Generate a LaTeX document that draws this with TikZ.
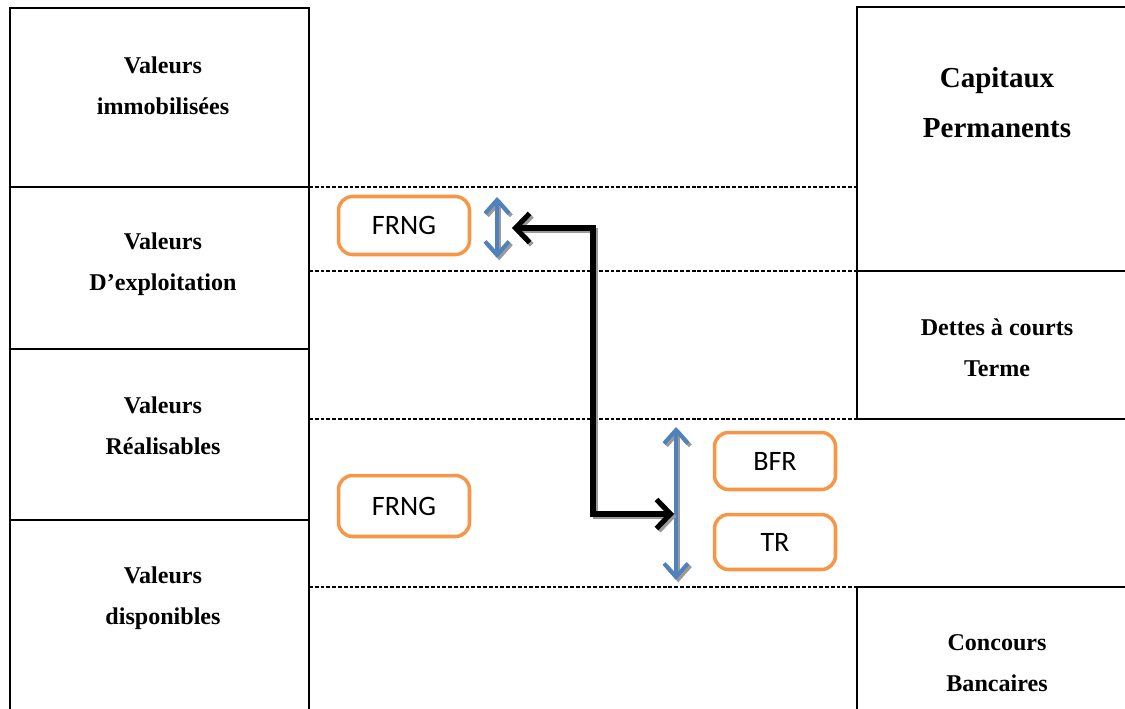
\documentclass[tikz,border=0pt]{standalone}
\usepackage{fontspec}
\setmainfont{Liberation Serif}
\newfontfamily\boxfont{Carlito}
\usetikzlibrary{arrows.meta}
\definecolor{frorange}{HTML}{F79646}
\definecolor{frblue}{HTML}{4F81BD}
\definecolor{shadowgray}{HTML}{9A9A9A}
\tikzset{
  grid/.style={line width=1.2pt, black},
  sep/.style={line width=0.6pt, black, dash pattern=on 2.2pt off 1.1pt},
  lbl/.style={align=center, font=\bfseries\fontsize{13.7}{23.5}\selectfont},
  biglbl/.style={align=center, font=\bfseries\fontsize{16.5}{28.5}\selectfont},
  tag/.style={draw=frorange, line width=2pt, rounded corners=8pt, fill=white,
    font=\boxfont\fontsize{16}{18}\selectfont, inner sep=0pt},
  bluearrow/.style={line width=2.3pt,
    {Straight Barb[length=0.27cm,width=0.48cm]}-{Straight Barb[length=0.27cm,width=0.48cm]}},
  blackarrow/.style={line width=2.9pt,
    {Straight Barb[length=0.28cm,width=0.58cm]}-{Straight Barb[length=0.28cm,width=0.58cm]}},
  dropshadow/.style={transform canvas={xshift=1.3pt, yshift=-1.3pt}, draw=shadowgray},
}
\begin{document}
\begin{tikzpicture}[x=0.02cm, y=-0.02cm]
\clip (0,0) rectangle (1125,709);
\useasboundingbox (0,0) rectangle (1125,709);

% asset column
\draw[grid] (10,715) -- (10,8) -- (309,8) -- (309,715);
\draw[grid] (10,187) -- (309,187);
\draw[grid] (10,349) -- (309,349);
\draw[grid] (10,520) -- (309,520);

% liabilities column
\draw[grid] (1130,7) -- (857,7) -- (857,419) -- (1130,419);
\draw[grid] (857,271) -- (1130,271);
\draw[grid] (1130,587) -- (857,587) -- (857,715);

% dashed level lines across the middle
\foreach \yy in {187,271,419,587}
  \draw[sep] (309,\yy) -- (857,\yy);

% column labels
\node[lbl] (vi) at (163,86) {Valeurs\\immobilisées};
\node[lbl] (ve) at (163,264) {Valeurs\\D’exploitation};
\node[lbl] (vr) at (163,426) {Valeurs\\Réalisables};
\node[lbl] (vd) at (163,598) {Valeurs\\disponibles};
\node[biglbl] (cp) at (997,103) {Capitaux\\Permanents};
\node[lbl] (dct) at (997,348) {Dettes à courts\\Terme};
\node[lbl] (cb) at (997,663) {Concours\\Bancaires};

% indicator boxes
\node[tag, minimum width=2.62cm, minimum height=1.16cm] (frng1) at (404,225.5) {FRNG};
\node[tag, minimum width=2.62cm, minimum height=1.22cm] (frng2) at (404,506) {FRNG};
\node[tag, minimum width=2.42cm, minimum height=1.14cm] (bfr) at (775,461) {BFR};
\node[tag, minimum width=2.42cm, minimum height=1.10cm] (tr) at (775,542) {TR};

% blue double arrows
\coordinate (sa1) at (497,197);
\coordinate (sa2) at (497,258);
\coordinate (ba1) at (676,427);
\coordinate (ba2) at (676,580);
\coordinate (smallR) at (512,228);
\coordinate (bigL) at (674,514);
\coordinate (bend) at (593,0);

\draw[dropshadow, bluearrow] (sa1) -- (sa2);
\draw[dropshadow, bluearrow] (ba1) -- (ba2);
\draw[frblue, bluearrow] (sa1) -- (sa2);
\draw[frblue, bluearrow] (ba1) -- (ba2);

% black connector between the two measures
\draw[dropshadow, blackarrow] (smallR) -| (bend |- bigL) -- (bigL);
\draw[black, blackarrow] (smallR) -| (bend |- bigL) -- (bigL);
\end{tikzpicture}
\end{document}
